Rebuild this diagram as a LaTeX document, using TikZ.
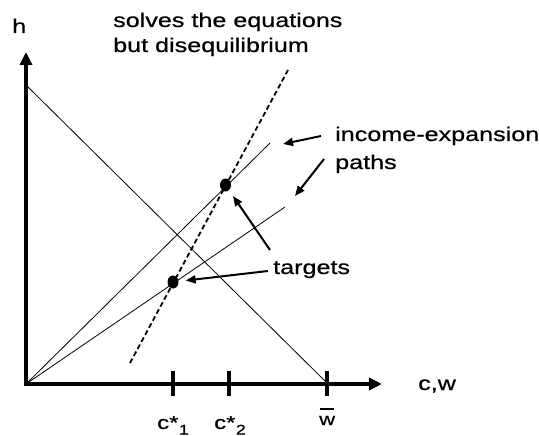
\documentclass[tikz,border=0pt]{standalone}
\usepackage{fontspec}
\setmainfont[FakeStretch=1.27,FakeBold=0.6]{Liberation Sans}
\usetikzlibrary{arrows.meta,shapes.geometric}
\newcommand\barw{\makebox[0pt][l]{\hspace{1pt}\rule[15.5pt]{13.5pt}{2pt}}w}
\newcommand\cstar[1]{c*\hspace{0.5pt}\raisebox{-5.5pt}{\fontsize{14}{14}\selectfont #1}}
\begin{document}
\begin{tikzpicture}[x=1pt,y=-1pt,
  lbl/.style={inner sep=0pt,anchor=base west,font=\fontsize{19.8}{23}\selectfont},
  tlbl/.style={inner sep=0pt,anchor=base west,font=\fontsize{18.8}{21}\selectfont},
  wlbl/.style={inner sep=0pt,anchor=base west,font=\fontsize{17.3}{20}\selectfont},
  axis/.style={line width=3.5pt,-{Triangle[length=13pt,width=12pt]}},
  tickmark/.style={line width=3.5pt},
  thinline/.style={line width=0.8pt},
  dashline/.style={line width=1.8pt,dash pattern=on 5pt off 3pt},
  pointer/.style={line width=2pt,-{Triangle[length=10pt,width=8pt]}},
  dot/.style={ellipse,fill=black,minimum width=11pt,minimum height=13pt,inner sep=0pt}]
\useasboundingbox (0,0) rectangle (539,436);
% coordinates
\coordinate (O) at (26,384);
\coordinate (ytop) at (26,52);
\coordinate (xend) at (382,384);
\coordinate (bA) at (27,86);
\coordinate (bB) at (327,383);
\coordinate (p1) at (270,143);
\coordinate (p2) at (285,207);
\coordinate (dA) at (130,363);
\coordinate (dB) at (288,70);
\coordinate (t1a) at (173,371); \coordinate (t1b) at (173,396);
\coordinate (t2a) at (229,371); \coordinate (t2b) at (229,396);
\coordinate (t3a) at (327,371); \coordinate (t3b) at (327,396);
\coordinate (ia) at (321,136); \coordinate (ib) at (283,144);
\coordinate (ja) at (324,159); \coordinate (jb) at (295,196);
\coordinate (ta) at (270,250);
\coordinate (tb) at (268,271);
% lines
\draw[thinline] (bA) -- (bB);
\draw[thinline] (O) -- (p1);
\draw[thinline] (O) -- (p2);
\draw[dashline] (dA) -- (dB);
\draw[axis] (O) -- (ytop);
\draw[axis] ([xshift=-1.75pt]O) -- (xend);
\draw[tickmark] (t1a) -- (t1b);
\draw[tickmark] (t2a) -- (t2b);
\draw[tickmark] (t3a) -- (t3b);
% dots
\node[dot] (U) at (225.5,185) {};
\node[dot] (L) at (173,282) {};
% pointers
\draw[pointer] (ia) -- (ib);
\draw[pointer] (ja) -- (jb);
\draw[pointer,shorten >=7pt] (ta) -- (U);
\draw[pointer,shorten >=7pt] (tb) -- (L);
% labels
\node[lbl] (h) at (12,33) {h};
\node[lbl] (s1) at (113,27) {solves the equations};
\node[lbl] (s2) at (113,52) {but disequilibrium};
\node[lbl] (ie1) at (335,141) {income-expansion};
\node[lbl] (ie2) at (335,169) {paths};
\node[lbl] (tg) at (273,274) {targets};
\node[lbl] (cw) at (418,390) {c,w};
\node[tlbl] (c1) at (157,429) {\cstar{1}};
\node[tlbl] (c2) at (214,429) {\cstar{2}};
\node[wlbl] (wb) at (319,425) {\barw};
\end{tikzpicture}
\end{document}
